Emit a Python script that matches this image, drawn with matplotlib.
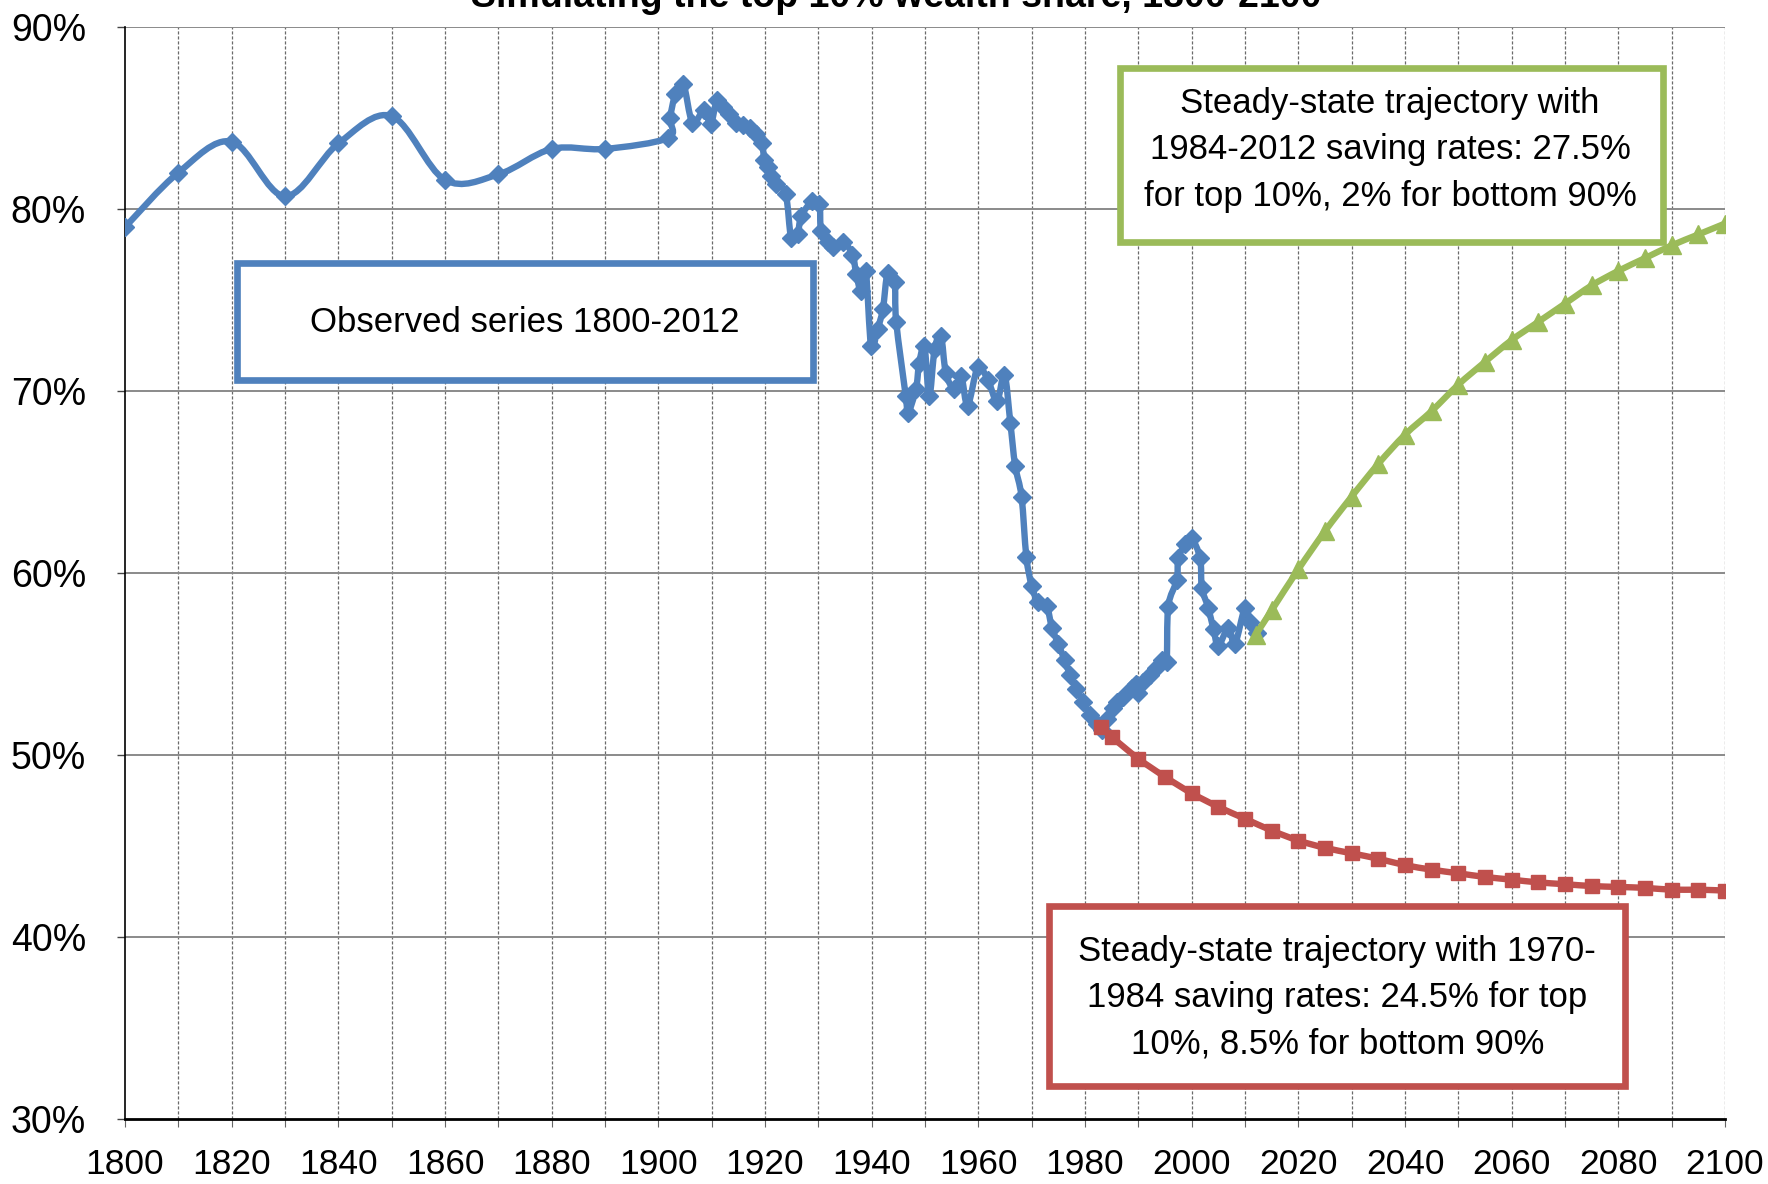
import numpy as np
import matplotlib
matplotlib.use("Agg")
import matplotlib.pyplot as plt
from matplotlib.path import Path
from matplotlib.patches import PathPatch, Rectangle

# ---------------- data ----------------
obs_years = [1800, 1810, 1820, 1830, 1840, 1850, 1860, 1870, 1880, 1890,
             1901.8, 1902.2, 1903.2, 1904.7, 1906.4, 1908.6, 1909.8, 1911.0, 1912.1, 1913.3,
             1914.6, 1915.8, 1917.1, 1918.3, 1919.4, 1919.9, 1920.5, 1921.1, 1922.1, 1923.9,
             1924.9, 1926.1, 1926.8, 1928.9, 1930.2, 1930.5, 1931.8, 1932.7, 1934.6, 1936.4,
             1937.1, 1938.0, 1938.9, 1939.9, 1941.1, 1942.1, 1943.0, 1944.3, 1944.6, 1946.4,
             1946.8, 1948.3, 1948.9, 1949.9, 1950.8, 1951.8, 1953.0, 1953.9, 1955.5, 1956.8,
             1958.0, 1959.9, 1961.8, 1963.5, 1964.9, 1966.0, 1966.9, 1968.1, 1969.0, 1970.0,
             1971.2, 1972.8, 1973.8, 1975.0, 1976.2, 1977.2, 1978.4, 1979.7, 1980.9, 1982.2,
             1983.1, 1984.2, 1985.3, 1986.0, 1987.2, 1988.8, 1989.5, 1990.0, 1990.9, 1992.2,
             1993.4, 1994.4, 1995.3, 1995.6, 1997.2, 1997.5, 1998.8, 2000.0, 2001.6, 2001.9,
             2003.1, 2004.1, 2005.0, 2006.9, 2008.1, 2010.0, 2010.9, 2012.2]
obs_share = [79.0, 82.0, 83.7, 80.7, 83.6, 85.1, 81.6, 81.9, 83.3, 83.3,
             83.9, 85.0, 86.3, 86.85, 84.75, 85.45, 84.65, 86.0, 85.6, 85.2,
             84.75, 84.6, 84.45, 84.1, 83.6, 82.7, 82.3, 81.8, 81.4, 80.8,
             78.4, 78.6, 79.6, 80.45, 80.3, 78.8, 78.2, 77.9, 78.2, 77.5,
             76.45, 75.5, 76.6, 72.45, 73.4, 74.5, 76.5, 76.0, 73.8, 69.7,
             68.8, 70.1, 71.5, 72.45, 69.7, 72.3, 73.0, 71.0, 70.1, 70.8,
             69.2, 71.3, 70.6, 69.45, 70.9, 68.25, 65.9, 64.2, 60.9, 59.3,
             58.4, 58.2, 57.0, 56.1, 55.2, 54.4, 53.6, 52.9, 52.2, 51.7,
             51.4, 52.0, 52.6, 52.9, 53.2, 53.7, 53.9, 53.4, 54.0, 54.4,
             54.8, 55.2, 55.1, 58.15, 59.6, 60.8, 61.6, 61.9, 60.8, 59.2,
             58.1, 56.9, 56.0, 57.0, 56.1, 58.1, 57.3, 56.7]

low_years = [1983, 1985] + list(range(1990, 2101, 5))
low_share = [51.55, 51.0, 49.8, 48.8, 47.9, 47.15, 46.5, 45.85, 45.3, 44.9,
             44.6, 44.3, 43.95, 43.7, 43.5, 43.3, 43.15, 43.0, 42.9, 42.8,
             42.75, 42.7, 42.6, 42.6, 42.55]

high_years = [2012, 2015] + list(range(2020, 2101, 5))
high_share = [56.6, 57.95, 60.2, 62.3, 64.2, 66.0, 67.6, 68.9, 70.35, 71.6,
              72.8, 73.8, 74.8, 75.8, 76.6, 77.3, 78.0, 78.6, 79.2]

x_ticks = list(range(1800, 2101, 20))
y_ticks = [30, 40, 50, 60, 70, 80, 90]

title = "Simulating the top 10% wealth share, 1800-2100"
obs_label = "Observed series 1800-2012"
high_label = "Steady-state trajectory with\n1984-2012 saving rates: 27.5%\nfor top 10%, 2% for bottom 90%"
low_label = "Steady-state trajectory with 1970-\n1984 saving rates: 24.5% for top\n10%, 8.5% for bottom 90%"

BLUE = "#4F81BD"
RED = "#C0504D"
GREEN = "#9BBB59"
FONT = ["Liberation Sans Narrow", "Arial Narrow", "Liberation Sans", "DejaVu Sans"]

plt.rcParams["font.family"] = FONT


def smooth_path(xs, ys):
    """Catmull-Rom style smoothing (as in spreadsheet 'smoothed line') as cubic Beziers."""
    p = np.column_stack([xs, ys]).astype(float)
    n = len(p)
    verts = [p[0]]
    codes = [Path.MOVETO]
    for i in range(n - 1):
        p0 = p[i - 1] if i > 0 else p[i]
        p1 = p[i]
        p2 = p[i + 1]
        p3 = p[i + 2] if i + 2 < n else p[i + 1]
        c1 = p1 + (p2 - p0) / 6.0
        c2 = p2 - (p3 - p1) / 6.0
        verts += [c1, c2, p2]
        codes += [Path.CURVE4] * 3
    return Path(np.array(verts), codes)


fig = plt.figure(figsize=(17.68, 11.84), dpi=100)
ax = fig.add_axes([125 / 1768, 1 - 1119 / 1184, 1600 / 1768, 1092 / 1184])

ax.set_xlim(1800, 2100)
ax.set_ylim(30, 90)

# grid
for yr in range(1810, 2101, 10):
    ax.axvline(yr, color="#6a6a6a", lw=0.9, ls=(0, (2.5, 1.5)), zorder=1)
for v in range(40, 91, 10):
    ax.axhline(v, color="#8a8a8a", lw=1.4, zorder=1)

# series
for xs, ys, col, mk, ms, z in [
    (obs_years, obs_share, BLUE, "D", 9.5, 3),
    (low_years, low_share, RED, "s", 10, 4),
    (high_years, high_share, GREEN, "^", 13, 5),
]:
    ax.add_patch(PathPatch(smooth_path(xs, ys), facecolor="none", edgecolor=col,
                           lw=4.6, zorder=z, capstyle="round", joinstyle="round"))
    ax.plot(xs, ys, ls="none", marker=mk, ms=ms, color=col, mec=col, zorder=z + 0.1)

# annotation boxes
ax.add_patch(Rectangle((1821, 70.6), 1929 - 1821, 77.05 - 70.6, fill=True, fc="white",
                       ec=BLUE, lw=4.8, zorder=6))
ax.text(1875, 73.75, obs_label, ha="center", va="center", fontsize=25, zorder=7)

ax.add_patch(Rectangle((1986.5, 78.16), 2088.4 - 1986.5, 87.77 - 78.16, fill=True, fc="white",
                       ec=GREEN, lw=4.8, zorder=6))
ax.text(2037.2, 83.25, high_label, ha="center", va="center", fontsize=25,
        linespacing=1.52, zorder=7)

ax.add_patch(Rectangle((1973.2, 31.8), 2081.2 - 1973.2, 41.7 - 31.8, fill=True, fc="white",
                       ec=RED, lw=4.8, zorder=6))
ax.text(2027.3, 36.65, low_label, ha="center", va="center", fontsize=25,
        linespacing=1.52, zorder=7)

# axes styling
for s in ["top", "right"]:
    ax.spines[s].set_visible(False)
ax.spines["left"].set_color("black")
ax.spines["left"].set_linewidth(1.2)
ax.spines["bottom"].set_color("black")
ax.spines["bottom"].set_linewidth(2.0)

ax.set_xticks(x_ticks)
ax.set_xticks(list(range(1800, 2101, 10)), minor=True)
ax.set_xticklabels([str(t) for t in x_ticks])
ax.set_yticks(y_ticks)
ax.set_yticklabels([f"{t}%" for t in y_ticks])
ax.tick_params(axis="x", which="major", length=6, width=0.8, color="#666666",
               labelsize=25.5, pad=15)
ax.tick_params(axis="x", which="minor", length=6, width=0.8, color="#666666")
ax.tick_params(axis="y", length=6, width=1.0, color="#444444", labelsize=27, pad=22)

fig.text(896 / 1768, 1 - 7 / 1184, title, ha="center", va="baseline",
         fontsize=27, fontweight="bold")

fig.savefig("out.png", dpi=100, facecolor="white")
